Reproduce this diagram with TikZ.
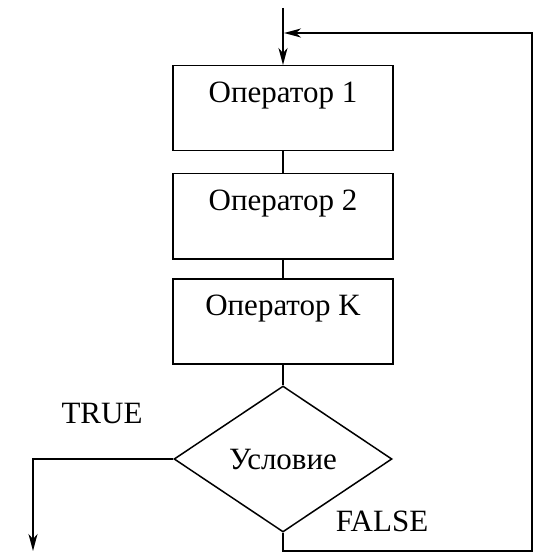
\documentclass[tikz,border=0pt]{standalone}
\usepackage{fontspec}
\setmainfont{Liberation Serif}
\usetikzlibrary{shapes.geometric,arrows.meta}
\begin{document}
\begin{tikzpicture}[x=1pt,y=-1pt,
  every node/.style={font=\fontsize{31}{36}\selectfont},
  line/.style={line width=1.5pt},
  arr/.style={line, -{Stealth[length=17pt,width=9pt,inset=5pt]}},
  opbox/.style={draw, line width=1.5pt, minimum width=220pt, inner xsep=0pt,
    inner ysep=0pt, text height=37pt, text depth=48pt},
  cond/.style={draw, line width=1.5pt, shape=diamond, minimum width=218pt,
    minimum height=146pt, inner sep=0pt}]
  \useasboundingbox (0,0) rectangle (537,553);
  \coordinate (entry) at (283,8);
  \coordinate (join) at (283,33);
  \node[opbox, anchor=north] (op1) at (283,65) {Оператор 1};
  \node[opbox, anchor=north] (op2) at (283,173) {Оператор 2};
  \node[opbox, anchor=north] (opk) at (283,278) {Оператор K};
  \node[cond] (cnd) at (283,459) {Условие};
  \coordinate (tcorner) at (33,459);
  \coordinate (texit) at (33,551);
  \coordinate (fdown) at (283,551);
  \coordinate (fcorner) at (532,551);
  \coordinate (fup) at (532,33);
  \node (tlabel) at (102,413) {TRUE};
  \node (flabel) at (382,521) {FALSE};
  \draw[arr] (entry) -- (op1.north);
  \draw[line] (op1.south) -- (op2.north);
  \draw[line] (op2.south) -- (opk.north);
  \draw[line] (opk.south) -- (cnd.north);
  \draw[arr] (cnd.west) -- (tcorner) -- (texit);
  \draw[arr] (cnd.south) -- (fdown) -- (fcorner) -- (fup) -- ([xshift=1pt]join);
\end{tikzpicture}
\end{document}
